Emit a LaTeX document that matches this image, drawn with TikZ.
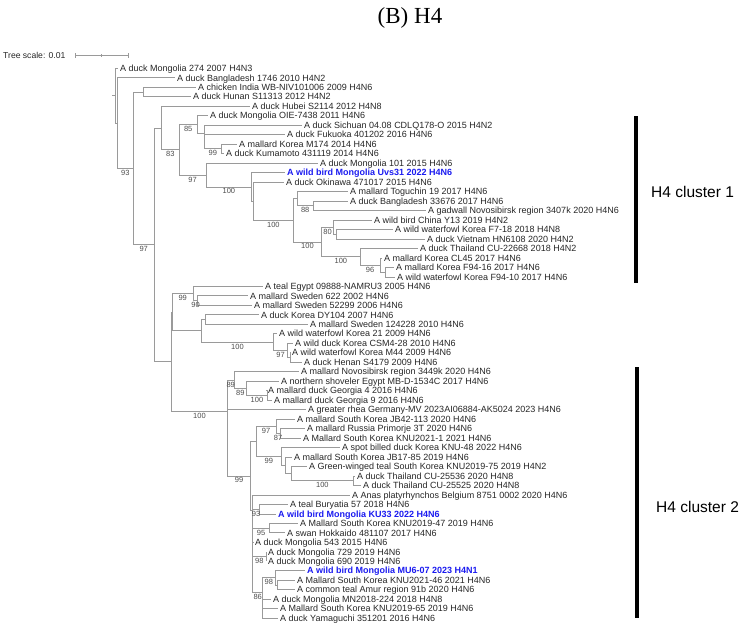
\documentclass[tikz,border=0pt]{standalone}
\usepackage{fontspec}
\setmainfont{Liberation Sans}
\newfontfamily\titlefont{Liberation Serif}
\definecolor{branch}{HTML}{9A9A9A}
\definecolor{leaftxt}{HTML}{262626}
\definecolor{bstxt}{HTML}{4D4D4D}
\definecolor{hlblue}{HTML}{1A1AF0}
\begin{document}
\begin{tikzpicture}[x=1pt,y=-1pt,
    br/.style={draw=branch,line width=0.8pt},
    leaf/.style={anchor=west,inner xsep=2pt,inner ysep=0pt,text=leaftxt,
        font=\fontsize{9}{10}\selectfont,text height=6.6pt,text depth=0.2pt},
    hl/.style={leaf,text=hlblue,font=\bfseries\fontsize{9}{10}\selectfont},
    bs/.style={inner sep=0pt,text=bstxt,font=\fontsize{7.5}{8}\selectfont},
    clbar/.style={draw=black,line width=4.5pt},
    cllab/.style={anchor=west,inner sep=0pt,font=\fontsize{15.5}{18}\selectfont}]
    \useasboundingbox (0,0) rectangle (743,629);

    % title and scale
    \node[font=\titlefont\fontsize{23}{26}\selectfont,anchor=base] (title) at (410,23) {(B) H4};
    \node[anchor=west,inner sep=0pt,text=leaftxt,font=\fontsize{8.6}{10}\selectfont] (tsl) at (3,55) {Tree scale: 0.01};
    \coordinate (sb0) at (75,55);
    \coordinate (sb1) at (128,55);
    \coordinate (sbm) at (101.5,55);
    \draw[br] (sb0) -- (sb1);
    \draw[br] ([yshift=-2.5pt]sb0) -- ([yshift=2.5pt]sb0);
    \draw[br] ([yshift=-2.5pt]sb1) -- ([yshift=2.5pt]sb1);
    \draw[br] ([yshift=-1.5pt]sbm) -- ([yshift=1.5pt]sbm);

    % leaves
    \node[leaf] (l1) at (118,68.3) {A duck Mongolia 274 2007 H4N3};
    \node[leaf] (l2) at (175,77.8) {A duck Bangladesh 1746 2010 H4N2};
    \node[leaf] (l3) at (196,87.3) {A chicken India WB-NIV101006 2009 H4N6};
    \node[leaf] (l4) at (191,96.7) {A duck Hunan S11313 2012 H4N2};
    \node[leaf] (l5) at (250,106.2) {A duck Hubei S2114 2012 H4N8};
    \node[leaf] (l6) at (208,115.7) {A duck Mongolia OIE-7438 2011 H4N6};
    \node[leaf] (l7) at (302,125.2) {A duck Sichuan 04.08 CDLQ178-O 2015 H4N2};
    \node[leaf] (l8) at (285,134.7) {A duck Fukuoka 401202 2016 H4N6};
    \node[leaf] (l9) at (237,144.1) {A mallard Korea M174 2014 H4N6};
    \node[leaf] (l10) at (224,153.6) {A duck Kumamoto 431119 2014 H4N6};
    \node[leaf] (l11) at (318,163.1) {A duck Mongolia 101 2015 H4N6};
    \node[hl] (l12) at (285,172.6) {A wild bird Mongolia Uvs31 2022 H4N6};
    \node[leaf] (l13) at (284,182.1) {A duck Okinawa 471017 2015 H4N6};
    \node[leaf] (l14) at (348,191.5) {A mallard Toguchin 19 2017 H4N6};
    \node[leaf] (l15) at (348,201.0) {A duck Bangladesh 33676 2017 H4N6};
    \node[leaf] (l16) at (426,210.5) {A gadwall Novosibirsk region 3407k 2020 H4N6};
    \node[leaf] (l17) at (372,220.0) {A wild bird China Y13 2019 H4N2};
    \node[leaf] (l18) at (393,229.5) {A wild waterfowl Korea F7-18 2018 H4N8};
    \node[leaf] (l19) at (425,238.9) {A duck Vietnam HN6108 2020 H4N2};
    \node[leaf] (l20) at (418,248.4) {A duck Thailand CU-22668 2018 H4N2};
    \node[leaf] (l21) at (382,257.9) {A mallard Korea CL45 2017 H4N6};
    \node[leaf] (l22) at (394,267.4) {A mallard Korea F94-16 2017 H4N6};
    \node[leaf] (l23) at (395,276.9) {A wild waterfowl Korea F94-10 2017 H4N6};
    \node[leaf] (l24) at (263,286.3) {A teal Egypt 09888-NAMRU3 2005 H4N6};
    \node[leaf] (l25) at (248,295.8) {A mallard Sweden 622 2002 H4N6};
    \node[leaf] (l26) at (252,305.3) {A mallard Sweden 52299 2006 H4N6};
    \node[leaf] (l27) at (259,314.8) {A duck Korea DY104 2007 H4N6};
    \node[leaf] (l28) at (308,324.3) {A mallard Sweden 124228 2010 H4N6};
    \node[leaf] (l29) at (277,333.7) {A wild waterfowl Korea 21 2009 H4N6};
    \node[leaf] (l30) at (293,343.2) {A wild duck Korea CSM4-28 2010 H4N6};
    \node[leaf] (l31) at (290,352.7) {A wild waterfowl Korea M44 2009 H4N6};
    \node[leaf] (l32) at (302,362.2) {A duck Henan S4179 2009 H4N6};
    \node[leaf] (l33) at (299,371.7) {A mallard Novosibirsk region 3449k 2020 H4N6};
    \node[leaf] (l34) at (279,381.1) {A northern shoveler Egypt MB-D-1534C 2017 H4N6};
    \node[leaf] (l35) at (266,390.6) {A mallard duck Georgia 4 2016 H4N6};
    \node[leaf] (l36) at (272,400.1) {A mallard duck Georgia 9 2016 H4N6};
    \node[leaf] (l37) at (306,409.6) {A greater rhea Germany-MV 2023AI06884-AK5024 2023 H4N6};
    \node[leaf] (l38) at (295,419.1) {A mallard South Korea JB42-113 2020 H4N6};
    \node[leaf] (l39) at (305,428.5) {A mallard Russia Primorje 3T 2020 H4N6};
    \node[leaf] (l40) at (301,438.0) {A Mallard South Korea KNU2021-1 2021 H4N6};
    \node[leaf] (l41) at (340,447.5) {A spot billed duck Korea KNU-48 2022 H4N6};
    \node[leaf] (l42) at (292,457.0) {A mallard South Korea JB17-85 2019 H4N6};
    \node[leaf] (l43) at (307,466.5) {A Green-winged teal South Korea KNU2019-75 2019 H4N2};
    \node[leaf] (l44) at (355,475.9) {A duck Thailand CU-25536 2020 H4N8};
    \node[leaf] (l45) at (361,485.4) {A duck Thailand CU-25525 2020 H4N8};
    \node[leaf] (l46) at (350,494.9) {A Anas platyrhynchos Belgium 8751 0002 2020 H4N6};
    \node[leaf] (l47) at (288,504.4) {A teal Buryatia 57 2018 H4N6};
    \node[hl] (l48) at (276,513.9) {A wild bird Mongolia KU33 2022 H4N6};
    \node[leaf] (l49) at (298,523.3) {A Mallard South Korea KNU2019-47 2019 H4N6};
    \node[leaf] (l50) at (285,532.8) {A swan Hokkaido 481107 2017 H4N6};
    \node[leaf] (l51) at (253,542.3) {A duck Mongolia 543 2015 H4N6};
    \node[leaf] (l52) at (266,551.8) {A duck Mongolia 729 2019 H4N6};
    \node[leaf] (l53) at (266,561.3) {A duck Mongolia 690 2019 H4N6};
    \node[hl] (l54) at (305,570.7) {A wild bird Mongolia MU6-07 2023 H4N1};
    \node[leaf] (l55) at (295,580.2) {A Mallard South Korea KNU2021-46 2021 H4N6};
    \node[leaf] (l56) at (295,589.7) {A common teal Amur region 91b 2020 H4N6};
    \node[leaf] (l57) at (271,599.2) {A duck Mongolia MN2018-224 2018 H4N8};
    \node[leaf] (l58) at (278,608.7) {A Mallard South Korea KNU2019-65 2019 H4N6};
    \node[leaf] (l59) at (278,618.1) {A duck Yamaguchi 351201 2016 H4N6};

    % internal nodes
    \coordinate (stub) at (112,95.7);
    \coordinate (nRoot) at (115.7,95.7);
    \coordinate (nA) at (117.7,123.1);
    \coordinate (nB) at (133,168.4);
    \coordinate (nD) at (143.3,92.0);
    \coordinate (nC) at (154.3,244.85);
    \coordinate (nE) at (161.7,128.0);
    \coordinate (nG) at (179,149.8);
    \coordinate (nH) at (197.3,124.6);
    \coordinate (nJ) at (204,133.5);
    \coordinate (nJb) at (204,141.8);
    \coordinate (nK) at (221.7,148.85);
    \coordinate (nI) at (206,175.0);
    \coordinate (nL) at (251.7,186.9);
    \coordinate (nLb) at (253.5,201.2);
    \coordinate (nN) at (293.3,220.25);
    \coordinate (nO) at (297,198.6);
    \coordinate (nAU) at (313.3,205.75);
    \coordinate (nAQ) at (321.7,241.9);
    \coordinate (nAT) at (333.3,227.1);
    \coordinate (nAV) at (336,234.2);
    \coordinate (nAR) at (360,256.7);
    \coordinate (nAW) at (380,265.0);
    \coordinate (nAX) at (385,272.15);
    \coordinate (nF) at (171.7,361.7);
    \coordinate (nP) at (172,312.1);
    \coordinate (nR) at (193.3,293.4);
    \coordinate (nS) at (197.7,300.55);
    \coordinate (nT) at (201.7,330.8);
    \coordinate (nU) at (205,319.55);
    \coordinate (nV) at (273.3,342.0);
    \coordinate (nW) at (287.7,350.3);
    \coordinate (nX) at (290.5,357.45);
    \coordinate (nQ) at (227.3,411.35);
    \coordinate (nQb) at (227.3,442.75);
    \coordinate (nY) at (234,379.95);
    \coordinate (nAA) at (246.7,388.2);
    \coordinate (nAB) at (267.3,395.35);
    \coordinate (nZ) at (250.7,475.9);
    \coordinate (nAC) at (256,441.3);
    \coordinate (nAE) at (276,426.2);
    \coordinate (nAG) at (280,433.25);
    \coordinate (nAF) at (281.7,456.4);
    \coordinate (nAH) at (285,465.3);
    \coordinate (nAI) at (291.7,473.6);
    \coordinate (nAJ) at (353,480.65);
    \coordinate (nAD) at (252.7,510.5);
    \coordinate (nAD2) at (252.7,526.2);
    \coordinate (nAD3) at (252.7,543.2);
    \coordinate (nAD4) at (252.7,558.3);
    \coordinate (nAD5) at (252.7,574.3);
    \coordinate (nAK) at (259.5,509.15);
    \coordinate (nAL) at (269.3,528.05);
    \coordinate (nAM) at (266,556.55);
    \coordinate (nAN) at (262.7,592.0);
    \coordinate (nAN1) at (262.7,606.3);
    \coordinate (nAN2) at (262.7,613.4);
    \coordinate (nAO) at (275,577.8);
    \coordinate (nAP) at (277,584.95);

    % branches
    \draw[br] (stub) -- (nRoot);
    \draw[br] (nRoot) |- (l1.west) (nRoot) |- (nA);
    \draw[br] (nA) |- (l2.west) (nA) |- (nB);
    \draw[br] (nB) |- (nD) (nB) |- (nC);
    \draw[br] (nD) |- (l3.west) (nD) |- (l4.west);
    \draw[br] (nC) |- (nE) (nC) |- (nF);
    \draw[br] (nE) |- (l5.west) (nE) |- (nG);
    \draw[br] (nG) |- (nH) (nG) |- (nI);
    \draw[br] (nH) |- (l6.west) (nH) |- (nJ);
    \draw[br] (nJ) |- (l7.west) (nJ) |- (nJb);
    \draw[br] (nJb) |- (l8.west) (nJb) |- (nK);
    \draw[br] (nK) |- (l9.west) (nK) |- (l10.west);
    \draw[br] (nI) |- (l11.west) (nI) |- (nL);
    \draw[br] (nL) |- (l12.west) (nL) |- (nLb);
    \draw[br] (nLb) |- (l13.west) (nLb) |- (nN);
    \draw[br] (nN) |- (nO) (nN) |- (nAQ);
    \draw[br] (nO) |- (l14.west) (nO) |- (nAU);
    \draw[br] (nAU) |- (l15.west) (nAU) |- (l16.west);
    \draw[br] (nAQ) |- (nAT) (nAQ) |- (nAR);
    \draw[br] (nAT) |- (l17.west) (nAT) |- (nAV);
    \draw[br] (nAV) |- (l18.west) (nAV) |- (l19.west);
    \draw[br] (nAR) |- (l20.west) (nAR) |- (nAW);
    \draw[br] (nAW) |- (l21.west) (nAW) |- (nAX);
    \draw[br] (nAX) |- (l22.west) (nAX) |- (l23.west);
    \draw[br] (nF) |- (nP) (nF) |- (nQ);
    \draw[br] (nP) |- (nR) (nP) |- (nT);
    \draw[br] (nR) |- (l24.west) (nR) |- (nS);
    \draw[br] (nS) |- (l25.west) (nS) |- (l26.west);
    \draw[br] (nT) |- (nU) (nT) |- (nV);
    \draw[br] (nU) |- (l27.west) (nU) |- (l28.west);
    \draw[br] (nV) |- (l29.west) (nV) |- (nW);
    \draw[br] (nW) |- (l30.west) (nW) |- (nX);
    \draw[br] (nX) |- (l31.west) (nX) |- (l32.west);
    \draw[br] (nQ) |- (nY) (nQ) |- (nQb);
    \draw[br] (nY) |- (l33.west) (nY) |- (nAA);
    \draw[br] (nAA) |- (l34.west) (nAA) |- (nAB);
    \draw[br] (nAB) |- (l35.west) (nAB) |- (l36.west);
    \draw[br] (nQb) |- (l37.west) (nQb) |- (nZ);
    \draw[br] (nZ) |- (nAC) (nZ) |- (nAD);
    \draw[br] (nAC) |- (nAE) (nAC) |- (nAF);
    \draw[br] (nAE) |- (l38.west) (nAE) |- (nAG);
    \draw[br] (nAG) |- (l39.west) (nAG) |- (l40.west);
    \draw[br] (nAF) |- (l41.west) (nAF) |- (nAH);
    \draw[br] (nAH) |- (l42.west) (nAH) |- (nAI);
    \draw[br] (nAI) |- (l43.west) (nAI) |- (nAJ);
    \draw[br] (nAJ) |- (l44.west) (nAJ) |- (l45.west);
    \draw[br] (nAD) |- (l46.west) (nAD) |- (nAD2);
    \draw[br] (nAD2) |- (nAK) (nAD2) |- (nAD3);
    \draw[br] (nAK) |- (l47.west) (nAK) |- (l48.west);
    \draw[br] (nAD3) |- (nAL) (nAD3) |- (nAD4);
    \draw[br] (nAL) |- (l49.west) (nAL) |- (l50.west);
    \draw[br] (nAD4) |- (l51.west) (nAD4) |- (nAD5);
    \draw[br] (nAD5) |- (nAM) (nAD5) |- (nAN);
    \draw[br] (nAM) |- (l52.west) (nAM) |- (l53.west);
    \draw[br] (nAN) |- (nAO) (nAN) |- (nAN1);
    \draw[br] (nAO) |- (l54.west) (nAO) |- (nAP);
    \draw[br] (nAP) |- (l55.west) (nAP) |- (l56.west);
    \draw[br] (nAN1) |- (l57.west) (nAN1) |- (nAN2);
    \draw[br] (nAN2) |- (l58.west) (nAN2) |- (l59.west);

    % bootstrap values
    \node[bs] (sB) at (125.4,172.9) {93};
    \node[bs] (sC) at (143.7,249.4) {97};
    \node[bs] (sG) at (170.4,154.3) {83};
    \node[bs] (sH) at (188.2,129.1) {85};
    \node[bs] (sK) at (212.9,153.4) {99};
    \node[bs] (sI) at (192.5,179.5) {97};
    \node[bs] (sL) at (228.9,191.4) {100};
    \node[bs] (sAU) at (305.2,210.3) {88};
    \node[bs] (sN) at (273.4,224.8) {100};
    \node[bs] (sAT) at (327.5,231.6) {80};
    \node[bs] (sAQ) at (307.5,246.4) {100};
    \node[bs] (sAR) at (340.9,261.2) {100};
    \node[bs] (sAW) at (370,269.5) {96};
    \node[bs] (sR) at (182.7,297.9) {99};
    \node[bs] (sS) at (195.5,305.1) {90};
    \node[bs] (sV) at (237.5,346.5) {100};
    \node[bs] (sW) at (280.5,354.8) {97};
    \node[bs] (sY) at (230.7,384.5) {89};
    \node[bs] (sAA) at (240.4,392.7) {89};
    \node[bs] (sAB) at (257,399.9) {100};
    \node[bs] (sQ) at (199.5,415.9) {100};
    \node[bs] (sZ) at (239,480.4) {99};
    \node[bs] (sAE) at (266,430.7) {97};
    \node[bs] (sAG) at (278,437.8) {87};
    \node[bs] (sAF) at (268.9,460.9) {99};
    \node[bs] (sAJ) at (322.4,485.2) {100};
    \node[bs] (sAK) at (256.1,513.7) {93};
    \node[bs] (sAL) at (261,532.6) {95};
    \node[bs] (sAM) at (259.4,561.1) {98};
    \node[bs] (sAO) at (268.9,582.3) {98};
    \node[bs] (sAN) at (257.7,596.5) {86};

    % clusters
    \coordinate (c1top) at (636,116);
    \coordinate (c1bot) at (636,283);
    \coordinate (c2top) at (637,367);
    \coordinate (c2bot) at (637,618);
    \draw[clbar] (c1top) -- (c1bot);
    \draw[clbar] (c2top) -- (c2bot);
    \node[cllab] (cl1) at (651,192) {H4 cluster 1};
    \node[cllab] (cl2) at (656,507) {H4 cluster 2};
\end{tikzpicture}
\end{document}
